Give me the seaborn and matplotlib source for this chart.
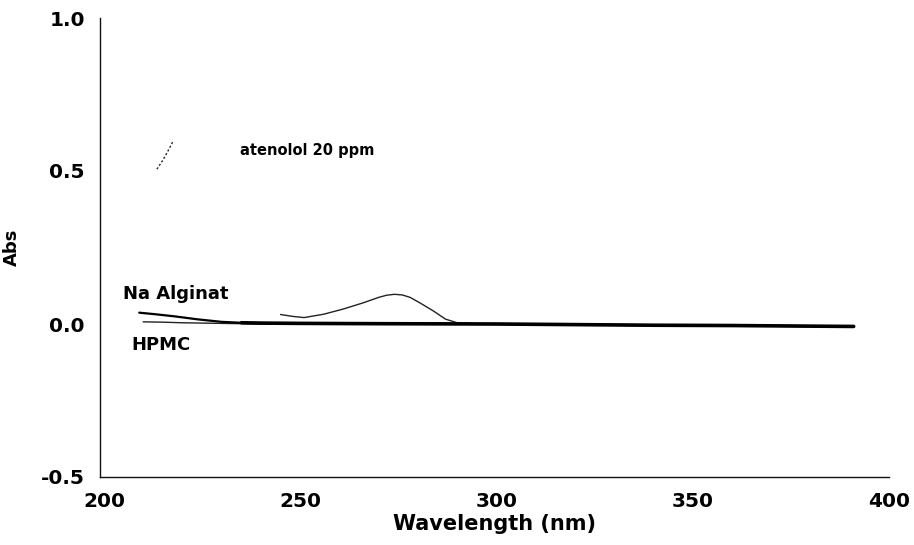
import matplotlib
matplotlib.use("Agg")
import matplotlib.pyplot as plt
import seaborn as sns
import pandas as pd
import numpy as np

# ---- data ----
aten_wl = [245, 248, 251, 256, 261, 266, 270, 272, 274, 276, 278, 280.5, 284, 287, 290, 295, 300, 320, 340, 360, 380, 391]
aten_abs = [0.031, 0.025, 0.021, 0.032, 0.049, 0.069, 0.087, 0.094, 0.097, 0.095, 0.087, 0.069, 0.042, 0.016, 0.004, 0.001, 0.0, -0.002, -0.004, -0.005, -0.007, -0.008]
aten_frag_wl = [213.5, 215.0, 216.3, 217.6]
aten_frag_abs = [0.506, 0.535, 0.565, 0.597]

alg_wl = [209, 213, 218, 224, 230, 235, 240, 250, 270, 300, 320, 340, 360, 380, 391]
alg_abs = [0.037, 0.032, 0.025, 0.015, 0.007, 0.004, 0.003, 0.002, 0.001, 0.0, -0.002, -0.004, -0.005, -0.007, -0.008]

hpmc_wl = [210, 215, 220, 225, 230, 235, 240, 260, 300, 320, 340, 360, 380, 391]
hpmc_abs = [0.007, 0.006, 0.004, 0.003, 0.002, 0.001, 0.0, 0.0, 0.0, -0.002, -0.004, -0.005, -0.007, -0.008]

x_ticks = [200, 250, 300, 350, 400]
y_ticks = [-0.5, 0.0, 0.5, 1.0]

sns.set_style("white")
plt.rcParams['font.family'] = ['DejaVu Sans']

fig = plt.figure(figsize=(9.14, 5.45), dpi=100)
ax = fig.add_axes([100/914, 1-477/545, (889-100)/914, (477-18)/545])

sns.lineplot(x=hpmc_wl, y=hpmc_abs, ax=ax, color="#222222", linewidth=1.0, sort=False)
sns.lineplot(x=alg_wl, y=alg_abs, ax=ax, color="#000000", linewidth=1.6, sort=False)
sns.lineplot(x=aten_wl, y=aten_abs, ax=ax, color="#222222", linewidth=1.0, sort=False)
sns.lineplot(x=aten_frag_wl, y=aten_frag_abs, ax=ax, color="#222222", linewidth=1.0,
             linestyle=(0, (1.5, 1.5)), sort=False)
# thick common baseline
sns.lineplot(x=alg_wl[5:], y=alg_abs[5:], ax=ax, color="#000000", linewidth=2.6, sort=False)

ax.set_xlim(199, 400)
ax.set_ylim(-0.5, 1.0)
ax.set_xticks(x_ticks)
ax.set_xticklabels([str(t) for t in x_ticks])
ax.set_yticks(y_ticks)
ax.set_yticklabels([f"{t:.1f}" for t in y_ticks])

for s in ["top", "right"]:
    ax.spines[s].set_visible(False)
for s in ["left", "bottom"]:
    ax.spines[s].set_color("#111111")
    ax.spines[s].set_linewidth(1.0)

ax.tick_params(axis="both", direction="out", length=5, width=1, colors="#111111",
               labelsize=14.5, pad=6)
for lab in ax.get_xticklabels() + ax.get_yticklabels():
    lab.set_fontweight("bold")
    lab.set_color("black")

ax.set_xlabel("Wavelength (nm)", fontsize=15, fontweight="bold", labelpad=2, color="black")
ax.set_ylabel("Abs", fontsize=13, fontweight="bold", labelpad=14, color="black")

ax.text(234.6, 0.568, "atenolol 20 ppm", fontsize=10.5, fontweight="bold", va="center", ha="left", color="black")
ax.text(204.8, 0.097, "Na Alginat", fontsize=13, fontweight="bold", va="center", ha="left", color="black")
ax.text(207.1, -0.067, "HPMC", fontsize=13, fontweight="bold", va="center", ha="left", color="black")

ax.grid(False)
fig.savefig("out.png", dpi=100)
